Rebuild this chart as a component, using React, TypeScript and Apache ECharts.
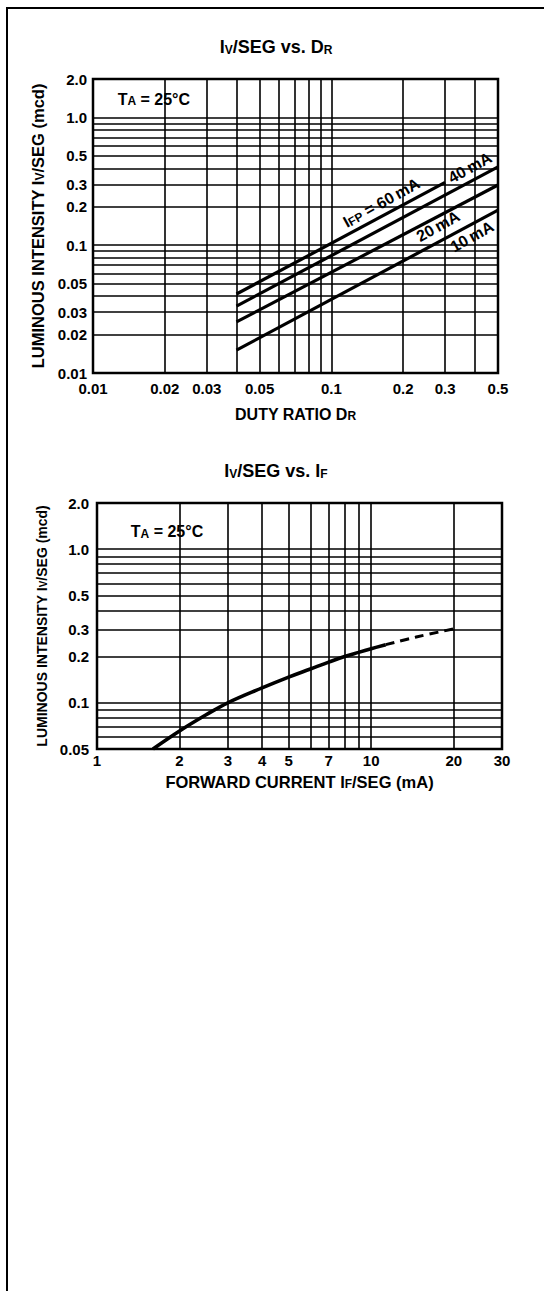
import React, { useEffect, useRef } from "react";
import * as echarts from "echarts";

// ---------- Chart 1: Iv/SEG vs. duty ratio ----------
const dutyTicks = [0.01, 0.02, 0.03, 0.05, 0.1, 0.2, 0.3, 0.5];
const dutyIvTicks = [0.01, 0.02, 0.03, 0.05, 0.1, 0.2, 0.3, 0.5, 1.0, 2.0];
const dutyGridX = [0.02, 0.03, 0.04, 0.05, 0.06, 0.07, 0.08, 0.09, 0.1, 0.2, 0.3, 0.4];
const dutyGridY = [0.02, 0.03, 0.04, 0.05, 0.06, 0.07, 0.08, 0.09, 0.1, 0.2, 0.3, 0.4, 0.5, 0.6, 0.7, 0.8, 0.9, 1.0];
const ifp60 = [[0.04, 0.0415], [0.3, 0.31]];
const ifp40 = [[0.04, 0.0334], [0.5, 0.41]];
const ifp20 = [[0.04, 0.0251], [0.5, 0.296]];
const ifp10 = [[0.04, 0.0151], [0.5, 0.188]];

// ---------- Chart 2: Iv/SEG vs. forward current ----------
const currentTicks = [1, 2, 3, 4, 5, 7, 10, 20, 30];
const currentIvTicks = [0.05, 0.1, 0.2, 0.3, 0.5, 1.0, 2.0];
const currentGridX = [2, 3, 4, 5, 6, 7, 8, 9, 10, 20];
const currentGridY = [0.06, 0.07, 0.08, 0.09, 0.1, 0.2, 0.3, 0.4, 0.5, 0.6, 0.7, 0.8, 0.9, 1.0];
const ivSolid = [
  [1.6, 0.05], [2, 0.0655], [2.5, 0.0835], [3, 0.1], [4, 0.125], [5, 0.147],
  [6, 0.166], [7, 0.184], [8, 0.2], [9, 0.213], [10, 0.225], [11.3, 0.239],
];
const ivDashed = [[11.3, 0.239], [14.6, 0.268], [20, 0.303]];

const FONT = "'Liberation Sans', Arial, Helvetica, sans-serif";
const INK = "#000";

function rich(size: number, sub: number) {
  return {
    n: { fontSize: size, lineHeight: size, verticalAlign: "top", fontWeight: "bold", fontFamily: FONT, color: INK },
    s: {
      fontSize: sub, lineHeight: sub, verticalAlign: "bottom", fontWeight: "bold", fontFamily: FONT, color: INK,
      padding: [Math.round(size * 0.55), 0, 0, 0],
    },
  };
}

const ivFmt = (v: number) => (v >= 1 ? v.toFixed(1) : String(v));

function gridLines(xs: number[], ys: number[]) {
  return {
    symbol: ["none", "none"],
    silent: true,
    animation: false,
    label: { show: false },
    emphasis: { disabled: true },
    lineStyle: { color: INK, width: 1.6, type: "solid" },
    data: [...xs.map((v) => ({ xAxis: v })), ...ys.map((v) => ({ yAxis: v }))],
  };
}

function note(coord: number[], text: string, size: number, rotate: number) {
  return {
    coord,
    symbol: "rect",
    symbolSize: 1,
    itemStyle: { color: "rgba(0,0,0,0)" },
    label: {
      show: true,
      position: "inside",
      rotate,
      formatter: text,
      rich: rich(size, Math.round(size * 0.72)),
    },
  };
}

function lineSeries(data: number[][], xi: number, extra: any = {}) {
  return {
    type: "line",
    xAxisIndex: xi,
    yAxisIndex: xi,
    data,
    showSymbol: false,
    symbol: "none",
    silent: true,
    z: 5,
    lineStyle: { color: INK, width: 3.2 },
    ...extra,
  };
}

export default function App() {
  const ref = useRef<HTMLDivElement>(null);

  useEffect(() => {
    if (!ref.current) return;
    const chart = echarts.init(ref.current, undefined, { renderer: "svg" });

    const axisLabel = (vals: number[], formatter: any, margin: number) => ({
      customValues: vals,
      formatter,
      margin,
      fontSize: 15,
      fontWeight: "bold",
      fontFamily: FONT,
      color: INK,
      showMinLabel: true,
      showMaxLabel: true,
      hideOverlap: false,
    });

    const option: any = {
      animation: false,
      backgroundColor: "#fff",
      title: [
        {
          text: "{n|I}{s|V}{n|/SEG vs. D}{s|R}",
          left: 271,
          top: 33,
          textAlign: "center",
          textStyle: { rich: rich(18, 12) },
        },
        {
          text: "{n|I}{s|V}{n|/SEG vs. I}{s|F}",
          left: 271,
          top: 457,
          textAlign: "center",
          textStyle: { rich: rich(18, 12) },
        },
      ],
      grid: [
        { left: 93, top: 79, width: 405, height: 294, show: true, borderColor: INK, borderWidth: 2.5, backgroundColor: "transparent" },
        { left: 97, top: 503, width: 405, height: 246, show: true, borderColor: INK, borderWidth: 2.5, backgroundColor: "transparent" },
      ],
      xAxis: [
        {
          type: "log", logBase: 10, gridIndex: 0, min: 0.01, max: 0.5,
          axisLine: { show: false }, axisTick: { show: false }, splitLine: { show: false },
          axisLabel: axisLabel(dutyTicks, (v: number) => String(v), 8),
          name: "{n|DUTY RATIO D}{s|R}",
          nameLocation: "middle",
          nameGap: 33,
          nameTextStyle: { rich: rich(16, 12) },
        },
        {
          type: "log", logBase: 10, gridIndex: 1, min: 1, max: 30,
          axisLine: { show: false }, axisTick: { show: false }, splitLine: { show: false },
          axisLabel: axisLabel(currentTicks, (v: number) => String(v), 4),
          name: "{n|FORWARD CURRENT I}{s|F}{n|/SEG (mA)}",
          nameLocation: "middle",
          nameGap: 24,
          nameTextStyle: { rich: rich(16.5, 12) },
        },
      ],
      yAxis: [
        {
          type: "log", logBase: 10, gridIndex: 0, min: 0.01, max: 2.0,
          axisLine: { show: false }, axisTick: { show: false }, splitLine: { show: false },
          axisLabel: axisLabel(dutyIvTicks, ivFmt, 6),
          name: "{n|LUMINOUS INTENSITY I}{s|V}{n|/SEG (mcd)}",
          nameLocation: "middle",
          nameRotate: 90,
          nameGap: 39,
          nameTextStyle: { rich: rich(16.5, 12) },
        },
        {
          type: "log", logBase: 10, gridIndex: 1, min: 0.05, max: 2.0,
          axisLine: { show: false }, axisTick: { show: false }, splitLine: { show: false },
          axisLabel: axisLabel(currentIvTicks, ivFmt, 8),
          name: "{n|LUMINOUS INTENSITY I}{s|V}{n|/SEG (mcd)}",
          nameLocation: "middle",
          nameRotate: 90,
          nameGap: 47,
          nameTextStyle: { rich: rich(14, 10) },
        },
      ],
      graphic: [
        {
          type: "rect",
          shape: { x: 7, y: 8, width: 700, height: 1400 },
          style: { fill: "none", stroke: INK, lineWidth: 2 },
          silent: true,
          z: 100,
        },
      ],
      series: [
        // grid lines chart 1
        {
          type: "line", xAxisIndex: 0, yAxisIndex: 0, data: [[0.5, 2.0]], showSymbol: false, symbol: "none",
          lineStyle: { width: 0 }, silent: true, z: 1,
          markLine: gridLines(dutyGridX, dutyGridY),
          markPoint: { data: [note([0.018, 1.39], "{n|T}{s|A}{n| = 25°C}", 16, 0)] },
        },
        lineSeries(ifp60, 0, { markPoint: { data: [note([0.162, 0.215], "{n|I}{s|FP}{n| = 60\u2009mA}", 16, 29)] } }),
        lineSeries(ifp40, 0, { markPoint: { data: [note([0.381, 0.405], "{n|40\u2009mA}", 16, 29)] } }),
        lineSeries(ifp20, 0, { markPoint: { data: [note([0.28, 0.141], "{n|20\u2009mA}", 16, 29)] } }),
        lineSeries(ifp10, 0, { markPoint: { data: [note([0.389, 0.117], "{n|10\u2009mA}", 16, 29)] } }),
        // grid lines chart 2
        {
          type: "line", xAxisIndex: 1, yAxisIndex: 1, data: [[30, 2.0]], showSymbol: false, symbol: "none",
          lineStyle: { width: 0 }, silent: true, z: 1,
          markLine: gridLines(currentGridX, currentGridY),
          markPoint: { data: [note([1.8, 1.3], "{n|T}{s|A}{n| = 25°C}", 16, 0)] },
        },
        lineSeries(ivSolid, 1, { smooth: 0.4, lineStyle: { color: INK, width: 3.6 } }),
        lineSeries(ivDashed, 1, { smooth: 0.4, lineStyle: { color: INK, width: 3, type: [9, 6] } }),
      ],
    };

    chart.setOption(option);
    return () => chart.dispose();
  }, []);

  return (
    <div
      ref={ref}
      style={{ position: "absolute", left: 0, top: 0, width: 544, height: 1291, background: "#fff" }}
    />
  );
}
